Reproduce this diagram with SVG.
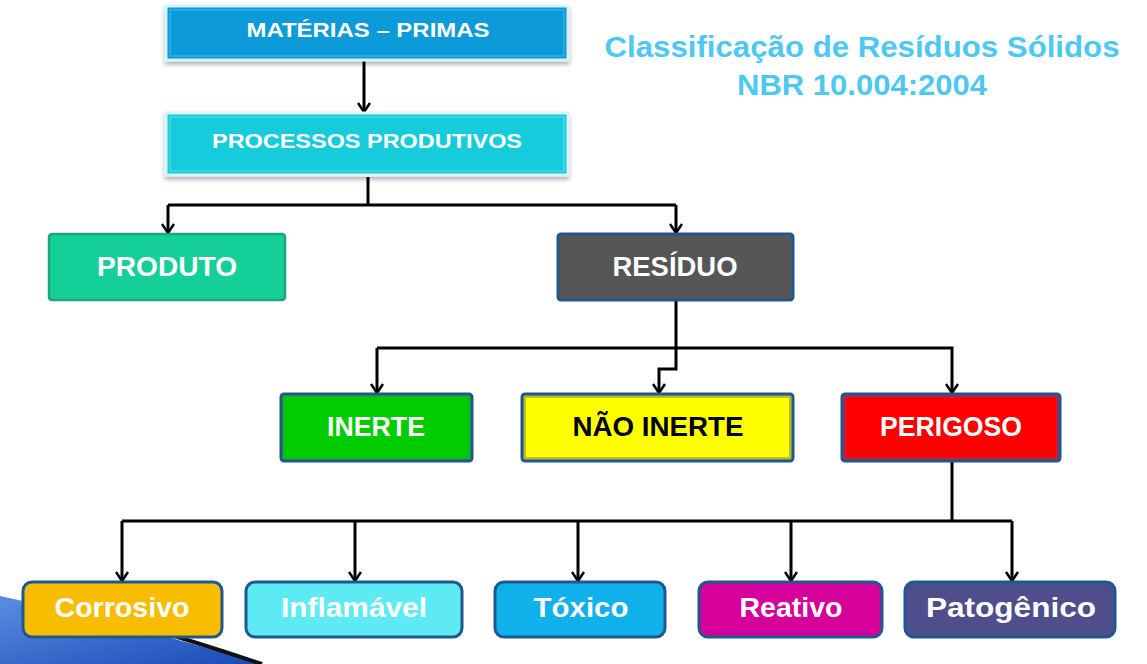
<svg xmlns="http://www.w3.org/2000/svg" width="1147" height="664" viewBox="0 0 1147 664">
<defs>
<style>
.lbl{font-family:"Liberation Sans",Arial,sans-serif;font-weight:bold;text-anchor:middle;fill:#fff}
.top{font-size:21px}
.mid{font-size:27px}
.bot{font-size:27px}
.title{font-family:"Liberation Sans",Arial,sans-serif;font-weight:bold;font-size:29px;fill:#4ec8f2;text-anchor:middle}
.conn{fill:none;stroke:#000;stroke-width:3}
.nb{stroke:#1f5890;stroke-width:3}
</style>
<marker id="arr" markerWidth="14" markerHeight="14" refX="12" refY="7" orient="auto" markerUnits="userSpaceOnUse" viewBox="0 0 14 14">
<path d="M3,1 L12,7 L3,13" fill="none" stroke="#000" stroke-width="2.5"/>
</marker>
<filter id="sh" x="-5%" y="-20%" width="110%" height="150%">
<feDropShadow dx="0" dy="3" stdDeviation="2" flood-color="#000" flood-opacity="0.3"/>
</filter>
<linearGradient id="swg" x1="0" y1="0" x2="1" y2="1">
<stop offset="0" stop-color="#5a8ee0"/>
<stop offset="1" stop-color="#1a4ab8"/>
</linearGradient>
</defs>
<rect width="1147" height="664" fill="#fff"/>
<g id="decoration">
<path d="M0,596 C90,615 180,640 262,664 L0,664 Z" fill="url(#swg)"/>
<path d="M40,600 C120,618 190,640 262,664" fill="none" stroke="#111" stroke-width="4"/>
</g>
<g id="title">
<text class="title" x="862" y="57" textLength="515" lengthAdjust="spacingAndGlyphs">Classificação de Resíduos Sólidos</text>
<text class="title" x="862" y="95" textLength="250" lengthAdjust="spacingAndGlyphs">NBR 10.004:2004</text>
</g>
<g id="connectors">
<path class="conn" d="M364,60 L364,112" marker-end="url(#arr)"/>
<path class="conn" d="M368,177 L368,205"/>
<path class="conn" d="M168,205 L676,205"/>
<path class="conn" d="M168,205 L168,233" marker-end="url(#arr)"/>
<path class="conn" d="M676,205 L676,233" marker-end="url(#arr)"/>
<path class="conn" d="M676,301 L676,369 L659,369 L659,393" marker-end="url(#arr)"/>
<path class="conn" d="M377,348 L952,348 L952,393" marker-end="url(#arr)"/>
<path class="conn" d="M377,348 L377,393" marker-end="url(#arr)"/>
<path class="conn" d="M952,462 L952,521"/>
<path class="conn" d="M122,521 L1012,521"/>
<path class="conn" d="M122,521 L122,581" marker-end="url(#arr)"/>
<path class="conn" d="M355,521 L355,581" marker-end="url(#arr)"/>
<path class="conn" d="M578,521 L578,581" marker-end="url(#arr)"/>
<path class="conn" d="M791,521 L791,581" marker-end="url(#arr)"/>
<path class="conn" d="M1012,521 L1012,581" marker-end="url(#arr)"/>
</g>
<g id="materias">
<rect x="166" y="6" width="402" height="54" fill="#0e9ad8" stroke="#d8f2fb" stroke-width="3" filter="url(#sh)"/>
<rect x="170" y="10" width="394" height="46" fill="none" stroke="#4cb8e6" stroke-width="1"/>
<text class="lbl top" x="368" y="37" textLength="243" lengthAdjust="spacingAndGlyphs">MATÉRIAS – PRIMAS</text>
</g>
<g id="processos">
<rect x="166" y="113" width="402" height="62" fill="#19cbdc" stroke="#d8f6fa" stroke-width="3" filter="url(#sh)"/>
<rect x="170" y="117" width="394" height="54" fill="none" stroke="#6cdcea" stroke-width="1"/>
<text class="lbl top" x="367" y="148" textLength="310" lengthAdjust="spacingAndGlyphs">PROCESSOS PRODUTIVOS</text>
</g>
<g id="produto">
<rect x="49" y="234" width="236" height="66" rx="3" fill="#14cf98" stroke="#1aa878" stroke-width="2.5"/>
<text class="lbl mid" x="167" y="276" textLength="140" lengthAdjust="spacingAndGlyphs">PRODUTO</text>
</g>
<g id="residuo">
<rect x="558" y="234" width="235" height="66" rx="3" fill="#565656" class="nb"/>
<text class="lbl mid" x="675" y="276" textLength="125" lengthAdjust="spacingAndGlyphs">RESÍDUO</text>
</g>
<g id="inerte">
<rect x="281" y="394" width="191" height="67" rx="3" fill="#12b81e" class="nb"/>
<rect x="285" y="398" width="183" height="59" fill="#00cc00"/>
<text class="lbl mid" x="376" y="436" textLength="98" lengthAdjust="spacingAndGlyphs">INERTE</text>
</g>
<g id="nao-inerte">
<rect x="522" y="394" width="271" height="67" rx="3" fill="#b8c020" class="nb"/>
<rect x="526" y="398" width="263" height="59" fill="#ffff00"/>
<text class="lbl mid" x="658" y="436" textLength="171" lengthAdjust="spacingAndGlyphs" style="fill:#000">NÃO INERTE</text>
</g>
<g id="perigoso">
<rect x="842" y="394" width="218" height="67" rx="3" fill="#c02040" class="nb"/>
<rect x="846" y="398" width="210" height="59" fill="#ff0000"/>
<text class="lbl mid" x="951" y="436" textLength="142" lengthAdjust="spacingAndGlyphs">PERIGOSO</text>
</g>
<g id="corrosivo">
<rect x="23" y="582" width="199" height="55" rx="9" fill="#f8bc00" class="nb"/>
<text class="lbl bot" x="122" y="617" textLength="135" lengthAdjust="spacingAndGlyphs">Corrosivo</text>
</g>
<g id="inflamavel">
<rect x="246" y="582" width="216" height="55" rx="9" fill="#5eeaf2" class="nb"/>
<text class="lbl bot" x="354" y="617" textLength="146" lengthAdjust="spacingAndGlyphs">Inflamável</text>
</g>
<g id="toxico">
<rect x="495" y="582" width="170" height="55" rx="9" fill="#10b0ea" class="nb"/>
<text class="lbl bot" x="581" y="617" textLength="95" lengthAdjust="spacingAndGlyphs">Tóxico</text>
</g>
<g id="reativo">
<rect x="699" y="582" width="183" height="55" rx="9" fill="#d6009a" class="nb"/>
<text class="lbl bot" x="791" y="617" textLength="103" lengthAdjust="spacingAndGlyphs">Reativo</text>
</g>
<g id="patogenico">
<rect x="905" y="582" width="210" height="55" rx="9" fill="#4e4e8c" class="nb"/>
<text class="lbl bot" x="1011" y="617" textLength="170" lengthAdjust="spacingAndGlyphs">Patogênico</text>
</g>
</svg>
